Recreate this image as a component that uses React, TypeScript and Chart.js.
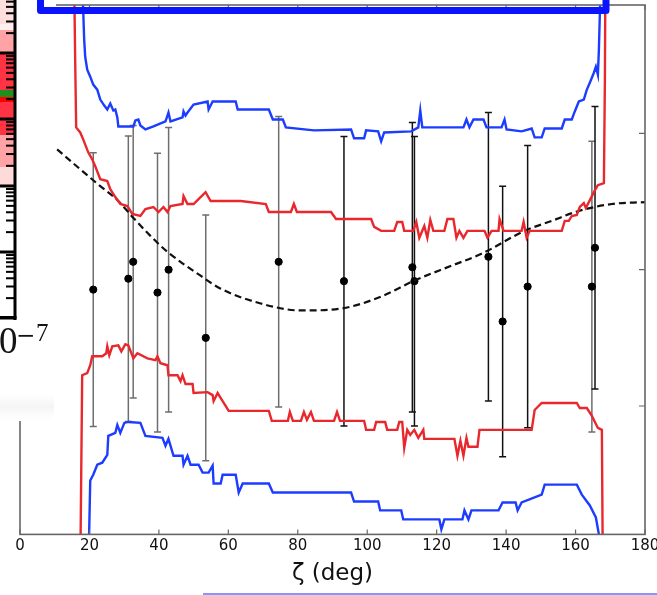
import React, { useEffect, useRef } from "react";
import { Chart, registerables } from "chart.js";

Chart.register(...registerables);

// ---- axis ----
const xTickValues = [0, 20, 40, 60, 80, 100, 120, 140, 160, 180];
const yTickValues = [1, 2, 3];
const xTitle = "ζ (deg)";

// ---- upper blue envelope ----
const blueUpperX = [17.91, 18.49, 18.78, 19.36, 20.23, 21.09, 22.25, 23.12, 24.27, 25.14, 26.0, 26.87, 27.45, 28.03, 28.32, 31.2, 32.65, 33.23, 34.09, 34.67, 36.12, 38.43, 41.9, 42.47, 42.76, 43.34, 46.81, 47.1, 47.67, 48.25, 49.99, 54.03, 54.32, 55.48, 62.12, 62.7, 71.66, 72.81, 75.7, 76.57, 84.66, 95.35, 96.21, 99.1, 99.68, 103.15, 104.02, 104.88, 112.68, 114.71, 115.28, 115.86, 127.71, 128.58, 129.44, 130.6, 133.49, 134.35, 138.69, 139.55, 140.13, 144.47, 147.36, 148.22, 150.25, 151.11, 156.02, 156.89, 158.91, 159.78, 160.94, 162.38, 163.25, 164.11, 165.27, 165.85, 166.43, 166.72, 167.0, 167.29];
const blueUpperY = [4.124, 3.686, 3.562, 3.467, 3.416, 3.358, 3.321, 3.248, 3.204, 3.175, 3.219, 3.168, 3.175, 3.117, 3.051, 3.051, 3.051, 3.095, 3.102, 3.058, 3.029, 3.051, 3.088, 3.131, 3.153, 3.088, 3.117, 3.161, 3.131, 3.153, 3.212, 3.234, 3.175, 3.234, 3.234, 3.175, 3.175, 3.102, 3.102, 3.044, 3.022, 3.029, 2.964, 2.964, 3.022, 3.015, 2.942, 3.007, 3.015, 3.044, 3.168, 3.044, 3.044, 3.102, 3.044, 3.102, 3.102, 3.044, 3.044, 3.102, 3.029, 3.015, 3.036, 2.971, 2.971, 3.036, 3.036, 3.102, 3.102, 3.161, 3.234, 3.248, 3.321, 3.372, 3.445, 3.489, 3.431, 3.613, 3.883, 4.124];

// ---- upper red envelope ----
const redUpperX = [15.6, 15.89, 16.18, 17.34, 18.2, 19.65, 20.8, 21.67, 23.12, 25.14, 26.0, 27.45, 28.89, 30.92, 32.36, 34.67, 36.12, 38.43, 39.87, 41.32, 42.47, 43.34, 46.81, 47.1, 48.25, 49.99, 51.43, 53.45, 54.9, 57.79, 63.57, 70.79, 71.66, 78.01, 78.88, 79.75, 89.57, 91.01, 101.13, 101.99, 104.02, 107.77, 108.64, 110.08, 110.66, 113.26, 114.13, 115.0, 116.44, 117.31, 118.17, 119.04, 122.22, 123.09, 124.82, 125.69, 126.55, 127.71, 128.86, 133.78, 134.64, 135.8, 137.82, 138.11, 139.27, 144.47, 145.04, 145.91, 146.78, 156.02, 156.89, 158.05, 158.91, 160.36, 161.22, 162.38, 162.96, 163.83, 165.27, 166.43, 168.16, 168.45, 168.59];
const redUpperY = [4.124, 3.54, 3.044, 3.007, 2.956, 2.861, 2.81, 2.759, 2.664, 2.65, 2.591, 2.533, 2.482, 2.467, 2.409, 2.394, 2.445, 2.46, 2.423, 2.46, 2.423, 2.467, 2.482, 2.54, 2.482, 2.482, 2.518, 2.569, 2.504, 2.504, 2.504, 2.482, 2.423, 2.423, 2.482, 2.423, 2.423, 2.372, 2.372, 2.314, 2.285, 2.285, 2.35, 2.35, 2.285, 2.285, 2.35, 2.234, 2.321, 2.234, 2.365, 2.285, 2.285, 2.372, 2.372, 2.234, 2.285, 2.234, 2.285, 2.285, 2.234, 2.285, 2.285, 2.372, 2.285, 2.285, 2.35, 2.234, 2.285, 2.285, 2.358, 2.358, 2.394, 2.401, 2.46, 2.489, 2.453, 2.496, 2.569, 2.62, 2.635, 3.394, 4.124];

// ---- lower red envelope ----
const redLowerX = [17.34, 17.91, 19.36, 20.23, 20.8, 23.69, 24.85, 25.14, 25.72, 26.58, 28.32, 29.18, 30.34, 31.2, 32.65, 33.81, 36.69, 39.01, 39.58, 40.45, 42.47, 42.76, 45.36, 46.23, 46.81, 47.67, 49.7, 49.99, 54.03, 55.48, 55.76, 56.92, 58.36, 60.1, 71.66, 72.52, 77.15, 77.72, 78.59, 80.9, 81.77, 82.64, 83.79, 84.66, 90.44, 91.3, 92.17, 99.1, 99.68, 101.99, 102.57, 105.17, 105.75, 108.64, 109.22, 110.08, 110.66, 111.53, 112.39, 113.55, 114.71, 116.15, 116.44, 125.11, 125.98, 126.84, 127.71, 128.58, 129.15, 131.75, 132.33, 147.36, 148.22, 150.25, 160.36, 161.22, 163.25, 164.69, 166.43, 167.58, 167.87];
const redLowerY = [-0.255, 1.226, 1.241, 1.299, 1.365, 1.365, 1.387, 1.438, 1.372, 1.438, 1.445, 1.401, 1.453, 1.445, 1.35, 1.387, 1.35, 1.336, 1.365, 1.314, 1.299, 1.226, 1.226, 1.182, 1.226, 1.161, 1.161, 1.095, 1.102, 1.08, 1.036, 1.095, 1.036, 0.964, 0.964, 0.891, 0.891, 0.956, 0.891, 0.891, 0.956, 0.898, 0.956, 0.891, 0.891, 0.956, 0.891, 0.891, 0.825, 0.825, 0.883, 0.883, 0.825, 0.825, 0.883, 0.883, 0.693, 0.825, 0.788, 0.825, 0.766, 0.825, 0.759, 0.759, 0.635, 0.745, 0.635, 0.766, 0.701, 0.701, 0.825, 0.825, 0.971, 1.022, 1.022, 0.985, 0.985, 0.927, 0.839, 0.825, -0.255];

// ---- lower blue envelope ----
const blueLowerX = [19.65, 20.23, 21.09, 22.25, 23.69, 25.14, 25.43, 27.45, 28.03, 28.89, 30.05, 31.2, 34.67, 36.12, 41.03, 41.9, 42.76, 44.21, 46.81, 47.1, 48.25, 49.12, 51.43, 52.59, 54.32, 55.48, 55.76, 57.79, 58.36, 62.12, 62.99, 64.14, 71.66, 72.81, 95.35, 96.21, 103.15, 103.73, 109.79, 110.37, 120.77, 121.35, 122.22, 127.42, 128.0, 129.15, 130.02, 137.82, 138.98, 142.73, 143.31, 144.47, 150.25, 151.11, 160.36, 161.8, 164.11, 165.85, 166.72, 167.0];
const blueLowerY = [-0.255, 0.453, 0.496, 0.569, 0.584, 0.642, 0.781, 0.803, 0.861, 0.803, 0.876, 0.883, 0.876, 0.781, 0.766, 0.708, 0.759, 0.635, 0.635, 0.569, 0.635, 0.569, 0.569, 0.511, 0.511, 0.562, 0.431, 0.431, 0.496, 0.496, 0.365, 0.431, 0.431, 0.365, 0.365, 0.299, 0.299, 0.234, 0.234, 0.168, 0.168, 0.095, 0.168, 0.168, 0.234, 0.168, 0.234, 0.234, 0.292, 0.292, 0.234, 0.292, 0.35, 0.423, 0.423, 0.35, 0.27, 0.182, 0.058, -0.255];

// ---- model (dashed) ----
const modelX = [10.69, 17.34, 23.12, 28.03, 32.65, 37.56, 42.47, 52.01, 57.79, 69.34, 80.9, 92.46, 104.02, 113.55, 124.24, 132.91, 145.33, 153.13, 160.94, 170.48, 180.0];
const modelY = [2.883, 2.737, 2.613, 2.511, 2.38, 2.248, 2.131, 1.956, 1.861, 1.752, 1.701, 1.715, 1.803, 1.92, 2.029, 2.117, 2.285, 2.358, 2.431, 2.482, 2.496];

// ---- measurements (grey error bars) ----
const obsAZeta = [21.1, 31.2, 32.6, 39.6, 42.8, 53.5, 74.5, 164.7];
const obsAValue = [1.854, 1.934, 2.058, 1.832, 2.0, 1.5, 2.058, 1.876];
const obsAError = [1.004, 1.047, 1.0, 1.022, 1.044, 0.901, 1.066, 1.066];

// ---- measurements (black error bars) ----
const obsBZeta = [93.3, 113.0, 113.6, 134.9, 139.0, 146.2, 165.6];
const obsBValue = [1.916, 2.018, 1.916, 2.095, 1.62, 1.876, 2.161];
const obsBError = [1.062, 1.062, 1.062, 1.058, 0.993, 1.036, 1.036];

const zip = (xs: number[], ys: number[]) => xs.map((x, i) => ({ x, y: ys[i] }));

const errorBarPlugin = {
  id: "errorBars",
  beforeDatasetsDraw(chart: any) {
    const ctx = chart.ctx;
    const xs = chart.scales.x;
    const ys = chart.scales.y;
    const area = chart.chartArea;
    const groups = [
      { z: obsAZeta, v: obsAValue, e: obsAError, c: "#6e6e6e" },
      { z: obsBZeta, v: obsBValue, e: obsBError, c: "#111111" },
    ];
    ctx.save();
    ctx.beginPath();
    ctx.rect(area.left, area.top, area.right - area.left, area.bottom - area.top);
    ctx.clip();
    ctx.lineWidth = 1.5;
    for (const g of groups) {
      ctx.strokeStyle = g.c;
      g.z.forEach((z: number, i: number) => {
        const px = xs.getPixelForValue(z);
        const top = ys.getPixelForValue(g.v[i] + g.e[i]);
        const bot = ys.getPixelForValue(g.v[i] - g.e[i]);
        ctx.beginPath();
        ctx.moveTo(px, top);
        ctx.lineTo(px, bot);
        ctx.moveTo(px - 3.5, top);
        ctx.lineTo(px + 3.5, top);
        ctx.moveTo(px - 3.5, bot);
        ctx.lineTo(px + 3.5, bot);
        ctx.stroke();
      });
    }
    ctx.restore();
  },
};

const framePlugin = {
  id: "frame",
  afterDraw(chart: any) {
    const ctx = chart.ctx;
    const a = chart.chartArea;
    const xs = chart.scales.x;
    const ys = chart.scales.y;
    ctx.save();
    ctx.strokeStyle = "#666666";
    ctx.lineWidth = 1.6;
    ctx.strokeRect(a.left, a.top, a.right - a.left, a.bottom - a.top);
    ctx.lineWidth = 1.2;
    ctx.beginPath();
    xTickValues.forEach((t) => {
      const px = xs.getPixelForValue(t);
      ctx.moveTo(px, a.bottom);
      ctx.lineTo(px, a.bottom - 5);
      ctx.moveTo(px, a.top);
      ctx.lineTo(px, a.top + 5);
    });
    yTickValues.forEach((t) => {
      const py = ys.getPixelForValue(t);
      ctx.moveTo(a.right, py);
      ctx.lineTo(a.right - 6, py);
      ctx.moveTo(a.left, py);
      ctx.lineTo(a.left + 6, py);
    });
    ctx.stroke();

    // --- pasted-over left panel (white card) ---
    ctx.fillStyle = "#ffffff";
    ctx.fillRect(0, 0, 56, 421);
    const g = ctx.createLinearGradient(0, 394, 0, 420);
    g.addColorStop(0, "rgba(243,243,243,0)");
    g.addColorStop(0.5, "rgba(243,243,243,0.9)");
    g.addColorStop(1, "rgba(252,252,252,0.2)");
    ctx.fillStyle = g;
    ctx.fillRect(0, 394, 54, 26);

    // colour strip
    const strip: [number, number, string][] = [
      [0, 24, "#ffdede"],
      [24, 30, "#fff0f0"],
      [30, 53, "#ffa3a6"],
      [53, 90, "#ff3344"],
      [90, 97, "#1f8f1f"],
      [97, 102, "#ff0000"],
      [102, 135, "#ff3344"],
      [135, 167, "#ffa3a6"],
      [167, 185, "#ffdada"],
    ];
    strip.forEach(([y0, y1, c]) => {
      ctx.fillStyle = c;
      ctx.fillRect(0, y0, 14, y1 - y0);
    });
    ctx.fillStyle = "#000";
    const majors = [-13, 53, 119, 186, 252, 318];
    majors.forEach((m, k) => {
      ctx.fillRect(0, m - 1.5, 15, 3);
      if (k > 0) {
        const top = majors[k - 1];
        for (let d = 2; d <= 9; d++) {
          const y = m - Math.log10(d) * (m - top);
          ctx.fillRect(6, y - 1, 9, 2);
        }
      }
    });
    ctx.fillRect(13.5, 0, 3, 320);
    ctx.fillRect(0, 316, 16.5, 3);

    ctx.fillStyle = "#141414";
    ctx.textBaseline = "alphabetic";
    ctx.font = '37px "Liberation Serif"';
    ctx.fillText("0", -1, 353);
    ctx.font = '23px "DejaVu Serif"';
    ctx.fillText("−", 16, 343);
    ctx.font = '25px "Liberation Serif"';
    ctx.fillText("7", 36, 341);

    // selection rectangle
    ctx.strokeStyle = "#0a14ff";
    ctx.lineWidth = 7;
    ctx.lineJoin = "round";
    ctx.strokeRect(40.5, -40, 565.5, 50.5);

    // faint line at bottom
    ctx.fillStyle = "#8b93ff";
    ctx.fillRect(203, 593, 454, 2);
    ctx.restore();
  },
};

export default function App() {
  const ref = useRef<HTMLCanvasElement>(null);
  useEffect(() => {
    const lineDs = (label: string, xs: number[], ys: number[], color: string) => ({
      type: "line" as const,
      label,
      data: zip(xs, ys),
      borderColor: color,
      borderWidth: 2.4,
      pointRadius: 0,
      tension: 0,
      fill: false,
    });
    const chart = new Chart(ref.current!, {
      type: "line",
      data: {
        datasets: [
          lineDs("upper blue", blueUpperX, blueUpperY, "#1c3cff"),
          lineDs("upper red", redUpperX, redUpperY, "#e8282c"),
          lineDs("lower red", redLowerX, redLowerY, "#e8282c"),
          lineDs("lower blue", blueLowerX, blueLowerY, "#1c3cff"),
          {
            type: "line",
            label: "model",
            data: zip(modelX, modelY),
            borderColor: "#111111",
            borderWidth: 2.2,
            borderDash: [7, 4],
            pointRadius: 0,
            cubicInterpolationMode: "monotone",
            fill: false,
          },
          {
            type: "scatter",
            label: "obs A",
            data: zip(obsAZeta, obsAValue),
            backgroundColor: "#000",
            borderColor: "#000",
            pointRadius: 3.6,
            showLine: false,
          },
          {
            type: "scatter",
            label: "obs B",
            data: zip(obsBZeta, obsBValue),
            backgroundColor: "#000",
            borderColor: "#000",
            pointRadius: 3.6,
            showLine: false,
          },
        ] as any,
      },
      options: {
        animation: false,
        responsive: false,
        maintainAspectRatio: false,
        layout: { padding: { left: 20, right: 12, top: 5, bottom: 7 } },
        plugins: { legend: { display: false }, tooltip: { enabled: false } },
        scales: {
          x: {
            type: "linear",
            min: 0,
            max: 180,
            afterBuildTicks: (s: any) => {
              s.ticks = xTickValues.map((v) => ({ value: v }));
            },
            afterFit: (s: any) => {
              s.paddingLeft = 0;
              s.paddingRight = 0;
            },
            grid: { display: false, drawTicks: false },
            border: { display: false },
            ticks: {
              font: { family: "DejaVu Sans", size: 15 },
              color: "#111",
              padding: 3,
              maxRotation: 0,
              autoSkip: false,
            },
            title: {
              display: true,
              text: xTitle,
              font: { family: "DejaVu Sans", size: 23 },
              color: "#111",
              padding: { top: 2, bottom: 0 },
            },
          },
          y: {
            type: "linear",
            display: false,
            min: 0.058,
            max: 3.942,
          },
        },
      } as any,
      plugins: [errorBarPlugin, framePlugin],
    });
    return () => chart.destroy();
  }, []);
  return (
    <div style={{ position: "fixed", left: 0, top: 0, width: 657, height: 595, background: "#fff" }}>
      <canvas ref={ref} width={657} height={595} style={{ width: 657, height: 595, display: "block" }} />
    </div>
  );
}
